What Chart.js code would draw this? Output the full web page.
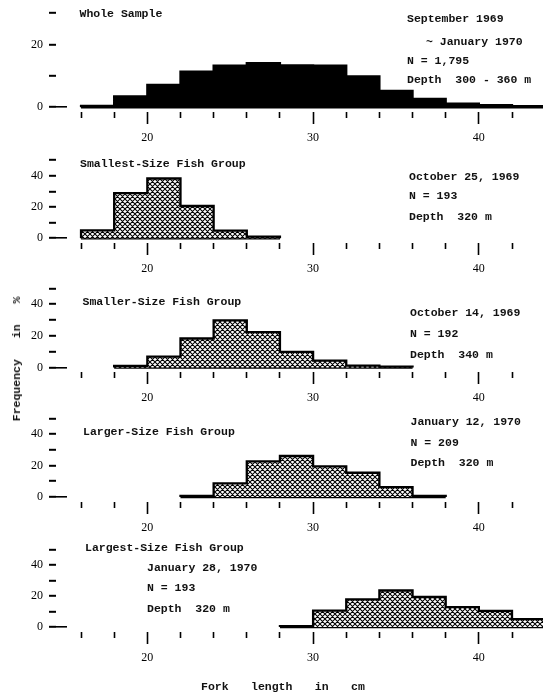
<!DOCTYPE html>
<html>
<head>
<meta charset="utf-8">
<script src="https://cdn.jsdelivr.net/npm/chart.js@4.4.1/dist/chart.umd.min.js"></script>
<style>
  html,body{margin:0;padding:0;background:#fff;}
  #page{position:relative;width:543px;height:695px;overflow:hidden;background:#fff;}
  #page canvas{position:absolute;left:0;}
  .txt{position:absolute;font-family:'Liberation Mono',monospace;font-weight:bold;font-size:11.5px;line-height:14px;color:#111;white-space:pre;}
  .ytitle{position:absolute;left:17px;top:359px;transform:translate(-50%,-50%) rotate(-90deg);word-spacing:14px;}
  .xtitle{left:201px;top:680px;word-spacing:15.5px;}
</style>
</head>
<body>
<div id="page"></div>
<script>
// histogram data: lower edge of first 2-cm bin, then % frequency per bin
const binWidth = 2;
const wholeStart = 16;
const wholePct = [0.4, 3.4, 7.1, 11.3, 13.2, 14.0, 13.3, 13.2, 9.8, 5.2, 2.6, 1.1, 0.6, 0.3];
const smallestStart = 16;
const smallestPct = [5.0, 28.8, 38.2, 20.6, 4.9, 1.0];
const smallerStart = 18;
const smallerPct = [1.0, 6.9, 18.3, 29.8, 22.3, 9.9, 4.3, 1.2, 0.5];
const largerStart = 22;
const largerPct = [0.6, 8.6, 22.6, 26.1, 19.5, 15.4, 6.2, 0.6];
const largestStart = 28;
const largestPct = [0.5, 10.6, 17.9, 23.6, 19.4, 12.8, 10.4, 5.0];

// axes
const xTicks = [16, 18, 20, 22, 24, 26, 28, 30, 32, 34, 36, 38, 40, 42];
const xLabelled = [20, 30, 40];
const yTicksWhole = [0, 10, 20, 30];
const yTicksGroup = [0, 10, 20, 30, 40, 50];
const yLabelled = [0, 20, 40];

// panel texts
const panelTitles = ['Whole Sample', 'Smallest-Size Fish Group', 'Smaller-Size Fish Group', 'Larger-Size Fish Group', 'Largest-Size Fish Group'];
const panelDates = [['September 1969', '~ January 1970'], ['October 25, 1969'], ['October 14, 1969'], ['January 12, 1970'], ['January 28, 1970']];
const panelN = ['N = 1,795', 'N = 193', 'N = 192', 'N = 209', 'N = 193'];
const panelDepth = ['Depth  300 - 360 m', 'Depth  320 m', 'Depth  340 m', 'Depth  320 m', 'Depth  320 m'];

// layout (page pixels)
const xMin = 14.49, xMax = 43.87, plotLeft = 56, axisH = 40;
const panels = [
  {start: wholeStart, pct: wholePct, yTicks: yTicksWhole, base: 107.0, ppp: 3.235, ymax: 31, solid: true,
   title: [79.5, 13.5], info: [[407, 19.3], [426, 42.3], [407, 61], [407, 80]]},
  {start: smallestStart, pct: smallestPct, yTicks: yTicksGroup, base: 238.0, ppp: 1.62, ymax: 52,
   title: [80, 164.3], info: [[409, 176.7], [409, 196], [409, 216.7]]},
  {start: smallerStart, pct: smallerPct, yTicks: yTicksGroup, base: 367.3, ppp: 1.64, ymax: 52,
   title: [82.5, 302.3], info: [[410, 313.3], [410, 334.3], [410, 355]]},
  {start: largerStart, pct: largerPct, yTicks: yTicksGroup, base: 496.7, ppp: 1.625, ymax: 52,
   title: [83, 431.7], info: [[410.5, 421.7], [410.5, 442.7], [410.5, 463.3]]},
  {start: largestStart, pct: largestPct, yTicks: yTicksGroup, base: 626.7, ppp: 1.6, ymax: 52,
   title: [85, 548.3], info: [[147, 568.3], [147, 588.3], [147, 609.3]]}
];

const page = document.getElementById('page');

function hatch(){
  const c = document.createElement('canvas');
  c.width = c.height = 5;
  const g = c.getContext('2d');
  g.fillStyle = '#fff'; g.fillRect(0, 0, 5, 5);
  g.strokeStyle = '#000'; g.lineWidth = 1.05;
  g.beginPath();
  [-5, 0, 5].forEach(k => {
    g.moveTo(k, 0); g.lineTo(k + 5, 5);
    g.moveTo(k + 5, 0); g.lineTo(k, 5);
  });
  g.stroke();
  return g.createPattern(c, 'repeat');
}

function addText(str, x, cy, cls){
  const d = document.createElement('div');
  d.className = 'txt' + (cls ? ' ' + cls : '');
  d.textContent = str;
  d.style.left = x + 'px';
  d.style.top = (cy - 7) + 'px';
  page.appendChild(d);
}

panels.forEach((p, idx) => {
  const end = p.start + p.pct.length * binWidth;
  // step outline: rise at first edge, one point per bin, drop at last edge
  const pts = [{x: p.start, y: 0}];
  p.pct.forEach((v, i) => pts.push({x: p.start + i * binWidth, y: v}));
  pts.push({x: end, y: 0});

  const top = Math.round(p.base - p.ymax * p.ppp - 10);
  const height = Math.round(p.base + 5 - top) + axisH;
  const chartBottom = top + height - axisH;
  const ymax = (p.base - (top + 10)) / p.ppp;
  const ymin = -(chartBottom - p.base) / p.ppp;

  const cv = document.createElement('canvas');
  cv.width = 543; cv.height = height;
  cv.style.top = top + 'px';
  page.appendChild(cv);

  new Chart(cv.getContext('2d'), {
    type: 'line',
    data: {
      datasets: [
        {data: pts, stepped: true, fill: 'origin', backgroundColor: p.solid ? '#000' : hatch(),
         borderColor: '#000', borderWidth: 2.3, pointRadius: 0, borderJoinStyle: 'miter'},
        {data: [{x: p.start, y: 0}, {x: end, y: 0}], borderColor: '#000', borderWidth: 2.6,
         pointRadius: 0, fill: false}
      ]
    },
    options: {
      responsive: false, animation: false, devicePixelRatio: 1,
      layout: {padding: {top: 10, left: 0, right: 0, bottom: 0}},
      plugins: {legend: {display: false}, tooltip: {enabled: false}},
      scales: {
        x: {
          type: 'linear', min: xMin, max: xMax,
          afterBuildTicks: s => { s.ticks = xTicks.map(v => ({value: v})); },
          afterFit: s => { s.height = axisH; },
          border: {display: false},
          grid: {drawOnChartArea: false, tickLength: 12, tickWidth: 1.6, tickColor: '#000',
                 tickBorderDash: c => (c.tick && xLabelled.includes(c.tick.value)) ? [] : [6, 40]},
          ticks: {autoSkip: false, maxRotation: 0, padding: 7, color: '#000',
                  font: {family: 'Liberation Serif', size: 12},
                  callback: v => xLabelled.includes(v) ? String(v) : ''}
        },
        y: {
          type: 'linear', min: ymin, max: ymax,
          afterBuildTicks: s => { s.ticks = p.yTicks.map(v => ({value: v})); },
          afterFit: s => { s.width = plotLeft; },
          border: {display: false, dash: c => (c.tick && c.tick.value === 0) ? [11, 600] : []},
          grid: {color: c => (c.tick && c.tick.value === 0) ? '#000' : 'rgba(0,0,0,0)', lineWidth: 1.6,
                 tickLength: 7, tickWidth: 2, tickColor: '#000'},
          ticks: {autoSkip: false, padding: 6, color: '#000', font: {family: 'Liberation Serif', size: 12},
                  callback: v => yLabelled.includes(v) ? String(v) : ''}
        }
      }
    }
  });

  addText(panelTitles[idx], p.title[0], p.title[1]);
  const lines = panelDates[idx].concat([panelN[idx], panelDepth[idx]]);
  lines.forEach((s, i) => addText(s, p.info[i][0], p.info[i][1]));
});

addText('Fork length in cm', 201, 686.7, 'xtitle');
const yt = document.createElement('div');
yt.className = 'txt ytitle';
yt.textContent = 'Frequency in %';
page.appendChild(yt);
</script>
</body>
</html>
